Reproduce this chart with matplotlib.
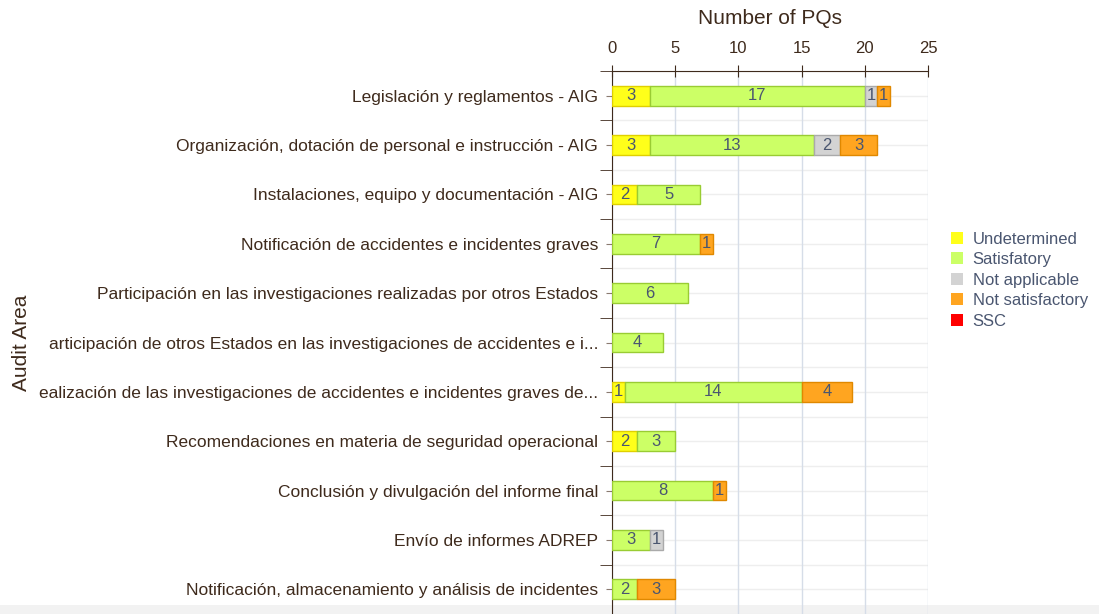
import numpy as np
import matplotlib.pyplot as plt
from matplotlib.patches import Rectangle

plt.rcParams['font.family'] = ['Liberation Sans', 'DejaVu Sans']

AREAS = [
    "Legislación y reglamentos - AIG",
    "Organización, dotación de personal e instrucción - AIG",
    "Instalaciones, equipo y documentación - AIG",
    "Notificación de accidentes e incidentes graves",
    "Participación en las investigaciones realizadas por otros Estados",
    "articipación de otros Estados en las investigaciones de accidentes e i...",
    "ealización de las investigaciones de accidentes e incidentes graves de...",
    "Recomendaciones en materia de seguridad operacional",
    "Conclusión y divulgación del informe final",
    "Envío de informes ADREP",
    "Notificación, almacenamiento y análisis de incidentes",
]

undetermined = [3, 3, 2, 0, 0, 0, 1, 2, 0, 0, 0]
satisfactory = [17, 13, 5, 7, 6, 4, 14, 3, 8, 3, 2]
not_applicable = [1, 2, 0, 0, 0, 0, 0, 0, 0, 1, 0]
not_satisfactory = [1, 3, 0, 1, 0, 0, 4, 0, 1, 0, 3]
ssc = [0, 0, 0, 0, 0, 0, 0, 0, 0, 0, 0]

SERIES = ["Undetermined", "Satisfatory", "Not applicable", "Not satisfactory", "SSC"]
FACE = ["#ffff1a", "#ccff66", "#d3d3d3", "#ffa520", "#ff0000"]
EDGE = ["#e0d000", "#99cc33", "#aaaaaa", "#e08800", "#cc0000"]

BROWN = "#3e2a1c"
LABEL_COL = "#4a5670"

fig = plt.figure(figsize=(10.99, 6.14), dpi=100)
fig.patches.append(Rectangle((0, 0), 1, 9 / 614, transform=fig.transFigure,
                             facecolor="#f2f2f2", edgecolor="none", zorder=-5))
ax = fig.add_axes([612 / 1099, 0, 316 / 1099, 1 - 71 / 614])
ax.patch.set_alpha(0)

y = np.arange(len(AREAS))
left = np.zeros(len(AREAS))
for name, vals, fc, ec in zip(SERIES, [undetermined, satisfactory, not_applicable,
                                       not_satisfactory, ssc], FACE, EDGE):
    vals = np.array(vals, dtype=float)
    nz = vals > 0
    ax.barh(y[nz], vals[nz], left=left[nz], height=0.4, color=fc, edgecolor=ec,
            linewidth=1, zorder=3)
    for yy, l, v in zip(y[nz], left[nz], vals[nz]):
        ax.text(l + v / 2, yy, f"{int(v)}", ha="center", va="center", fontsize=12,
                color=LABEL_COL, zorder=4)
    left += vals

ax.set_xlim(0, 25)
ax.set_ylim(10.42, -0.5)
ax.xaxis.tick_top()
ax.xaxis.set_label_position("top")
ax.set_xticks([0, 5, 10, 15, 20, 25])
ax.tick_params(axis="x", direction="inout", length=8, colors=BROWN,
               labelcolor=BROWN, labelsize=12, pad=7)
ax.set_xlabel("Number of PQs", fontsize=15, color=BROWN, labelpad=12)

ax.set_yticks(y)
ax.set_yticklabels(AREAS, fontsize=12.5, color=BROWN)
ax.set_yticks(np.arange(-0.5, 11, 1), minor=True)
ax.tick_params(axis="y", which="major", length=4, colors="#8a7a70",
               labelcolor=BROWN, pad=6)
ax.tick_params(axis="y", which="minor", length=9, colors=BROWN)
ax.set_ylabel("Audit Area", fontsize=15, color=BROWN)
ax.yaxis.set_label_coords(-1.84, 0.5)

for s in ["right", "bottom"]:
    ax.spines[s].set_visible(False)
for s in ["top", "left"]:
    ax.spines[s].set_color(BROWN)

ax.xaxis.grid(True, color="#d6dde8", linewidth=1, zorder=0)
for v in np.arange(-0.5, 11.5, 0.5):
    ax.axhline(v, color="#eeeeee", linewidth=1, zorder=0)

handles = [Rectangle((0, 0), 1, 1, facecolor=fc, edgecolor="none") for fc in FACE]
fig.legend(handles, SERIES, loc="center left", bbox_to_anchor=(936 / 1099, 1 - 280 / 614),
           frameon=False, fontsize=12, handlelength=0.7, handleheight=0.7,
           handletextpad=0.6, labelspacing=0.33, labelcolor=LABEL_COL)

fig.savefig("out.png", dpi=100)
